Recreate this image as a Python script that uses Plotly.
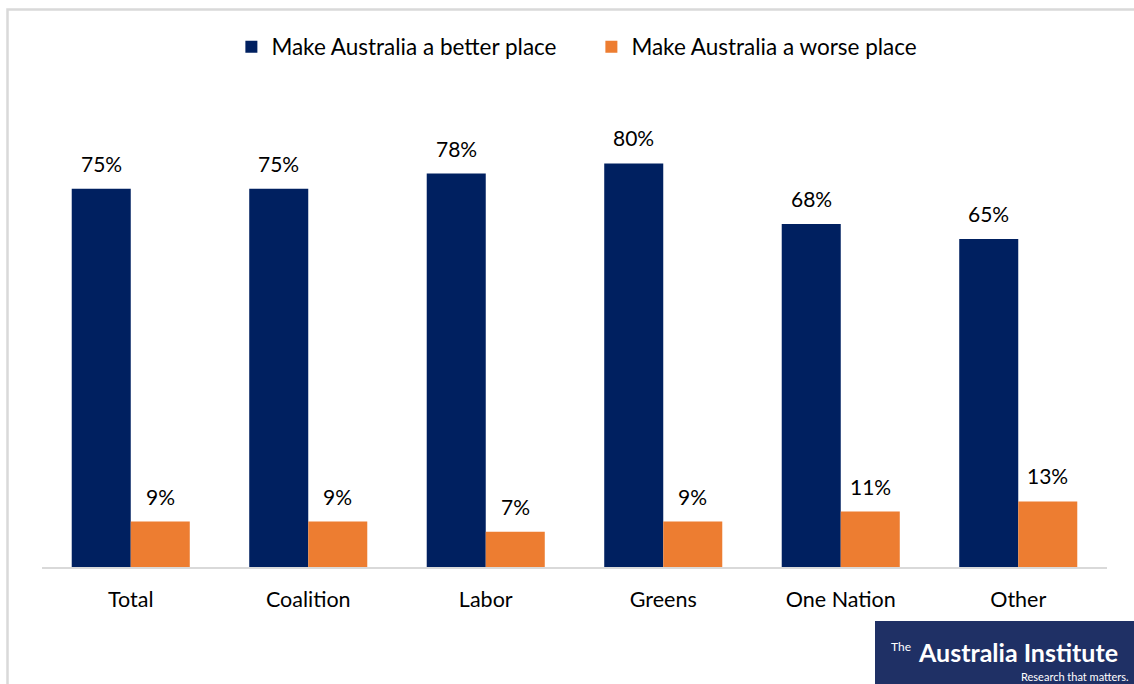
import plotly.graph_objects as go

categories = ["Total", "Coalition", "Labor", "Greens", "One Nation", "Other"]
better = [75, 75, 78, 80, 68, 65]
worse = [9, 9, 7, 9, 11, 13]
series_names = ["Make Australia a better place", "Make Australia a worse place"]
colors = ["#002060", "#ED7D31"]

W, H = 1134, 684
FONT = "Lato"

fig = go.Figure()
for name, vals, col in zip(series_names, [better, worse], colors):
    fig.add_trace(go.Bar(x=categories, y=vals, name=name, marker_color=col,
                         marker_line_width=0))

annotations = []
for vals, shift in [(better, -29.5), (worse, 29.5)]:
    for c, v in zip(categories, vals):
        annotations.append(dict(x=c, y=v, xref="x", yref="y", text=f"{v}%",
                                showarrow=False, xshift=shift, yshift=11,
                                yanchor="bottom", font=dict(size=21, color="#000000", family=FONT)))

# logo
annotations += [
    dict(xref="paper", yref="paper", x=913/W, y=1-646/H, text="The", showarrow=False,
         xanchor="right", yanchor="middle", font=dict(size=12, color="white", family=FONT)),
    dict(xref="paper", yref="paper", x=1120/W, y=1-652/H, text="<b>Australia Institute</b>", showarrow=False,
         xanchor="right", yanchor="middle", font=dict(size=25, color="white", family=FONT)),
    dict(xref="paper", yref="paper", x=1131/W, y=1-676/H, text="Research that matters.", showarrow=False,
         xanchor="right", yanchor="middle", font=dict(size=11, color="white", family=FONT)),
]

shapes = [
    dict(type="rect", xref="paper", yref="paper", x0=7.5/W, x1=1.05, y0=-0.05, y1=1-9.5/H,
         line=dict(color="#d9d9d9", width=2.5), fillcolor="rgba(0,0,0,0)", layer="below"),
    dict(type="rect", xref="paper", yref="paper", x0=875/W, x1=1.0, y0=0, y1=1-621/H,
         line=dict(width=0), fillcolor="#1f3065"),
]

fig.update_layout(
    width=W, height=H,
    margin=dict(l=0, r=0, t=0, b=0),
    paper_bgcolor="white", plot_bgcolor="white",
    barmode="group", bargap=0.335, bargroupgap=0,
    font=dict(family=FONT, color="#000000"),
    showlegend=True,
    legend=dict(orientation="h", x=0.5215, xanchor="center", y=1-47/H, yanchor="middle",
                font=dict(size=22.5, family=FONT, color="#000000"), itemwidth=30,
                entrywidth=315, entrywidthmode="pixels",
                traceorder="normal"),
    xaxis=dict(domain=[42/W, 1107/W], showline=True, linecolor="#d9d9d9", linewidth=2,
               tickfont=dict(size=21.5, family=FONT, color="#000000"), ticks="", ticklabelstandoff=12),
    yaxis=dict(domain=[1-567/H, 1-113/H], range=[0, 90], showgrid=False, showticklabels=False,
               zeroline=False, showline=False),
    annotations=annotations,
    shapes=shapes,
)

fig.write_html("out.html", config={"displayModeBar": False},
               post_script="document.body.style.margin='0';document.body.style.overflow='hidden';")
